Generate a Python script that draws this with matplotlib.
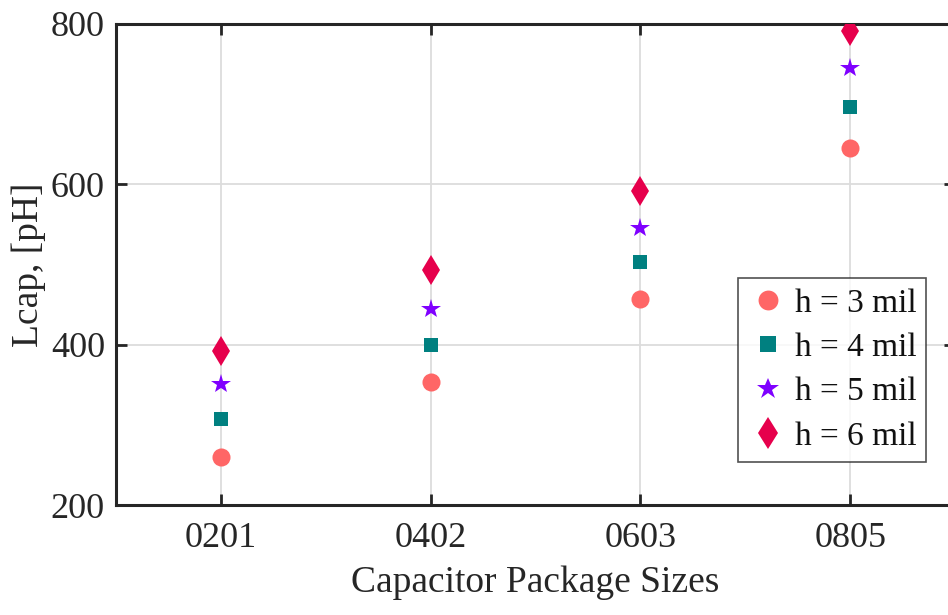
import matplotlib
matplotlib.use("Agg")
import matplotlib.pyplot as plt
import numpy as np

packages = ["0201", "0402", "0603", "0805"]
h3 = [260, 353, 457, 645]
h4 = [307, 400, 503, 696]
h5 = [351, 444, 546, 745]
h6 = [392, 493, 592, 791]
labels = ["h = 3 mil", "h = 4 mil", "h = 5 mil", "h = 6 mil"]
yticks = [200, 400, 600, 800]

plt.rcParams['font.family'] = ['Liberation Serif', 'DejaVu Serif']

fig = plt.figure(figsize=(9.48, 6.15), dpi=100)
ax = fig.add_axes([116/948, 1-505/615, (955-116)/948, (505-24)/615])

x = np.arange(1, len(packages) + 1)
series = [h3, h4, h5, h6]
markers = ['o', 's', '*', 'd']
colors = ['#FF6666', '#008080', '#7F00FF', '#E6004C']
sizes = [13, 10, 15, 15]
for s, m, c, ms, lab in zip(series, markers, colors, sizes, labels):
    ax.plot(x, s, linestyle='none', marker=m, color=c, markersize=ms,
            markeredgewidth=0, label=lab, zorder=3)

ax.set_xlim(0.5, 4.5)
ax.set_ylim(200, 800)
ax.set_xticks(x)
ax.set_xticklabels(packages)
ax.set_yticks(yticks)
ax.grid(True, color='#DCDCDC', linewidth=1.3)
ax.set_axisbelow(True)
for sp in ax.spines.values():
    sp.set_color('#262626')
    sp.set_linewidth(2.2)
ax.tick_params(direction='in', length=8, width=2, color='#262626',
               labelsize=26, labelcolor='#262626', top=True, right=True)
ax.tick_params(axis='x', pad=12)
ax.tick_params(axis='y', pad=8)
ax.set_xlabel("Capacitor Package Sizes", fontsize=27, color='#262626', labelpad=8)
ax.set_ylabel("Lcap, [pH]", fontsize=27, color='#262626')
ax.yaxis.set_label_coords(-0.083, 0.5)

leg = ax.legend(loc='upper left', bbox_to_anchor=(738/948, 1-278/615),
                bbox_transform=fig.transFigure, fontsize=24, frameon=True,
                fancybox=False, edgecolor='#262626', borderpad=0.3,
                handletextpad=0.2, labelspacing=0.42, handlelength=1.2,
                borderaxespad=0, markerscale=1.1)
leg.get_frame().set_linewidth(1.2)
for t in leg.get_texts():
    t.set_color('#111111')

fig.savefig("out.png", dpi=100)
